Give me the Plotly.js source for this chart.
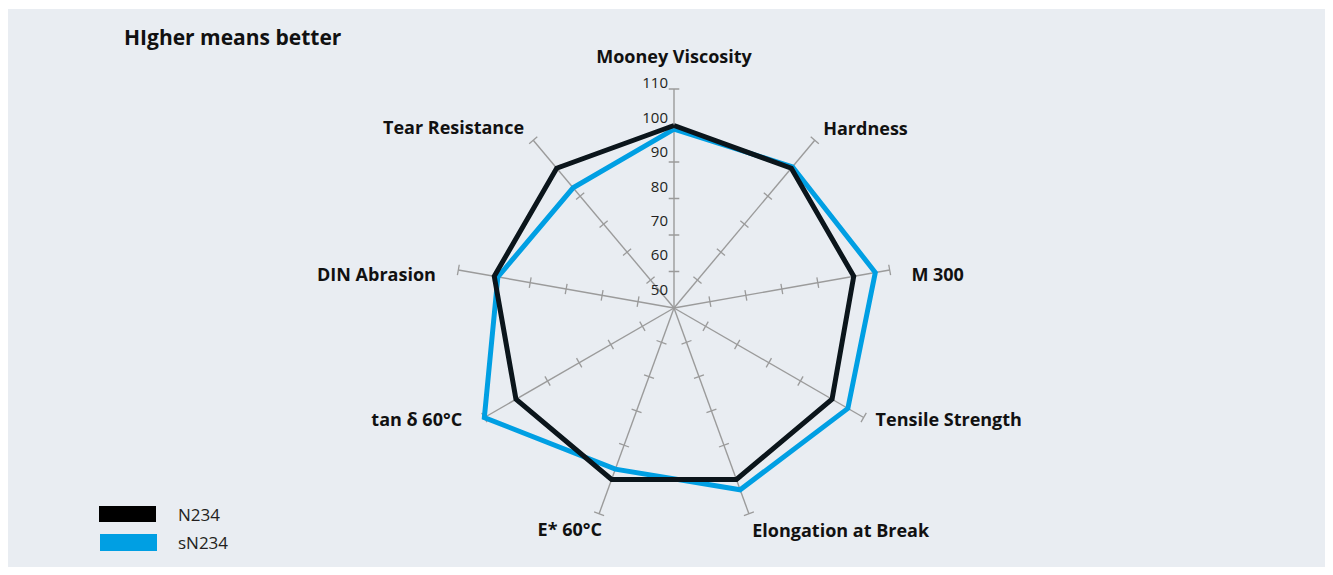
<!DOCTYPE html>
<html>
<head>
<meta charset="utf-8">
<script src="https://cdn.plot.ly/plotly-3.0.1.min.js"></script>
<style>
  html, body { margin: 0; padding: 0; background: #ffffff; }
  #chart { position: absolute; left: 8px; top: 9px; width: 1317px; height: 558px; }
</style>
</head>
<body>
<div id="chart"></div>
<script>
// ---- data ----
const categories = ["Mooney Viscosity", "Hardness", "M 300", "Tensile Strength",
  "Elongation at Break", "E* 60°C", "tan δ 60°C", "DIN Abrasion", "Tear Resistance"];
const seriesNames = ["N234", "sN234"];
const n234 = [100, 100, 100, 100, 100, 100, 100, 100, 100];
const sn234 = [99, 100.5, 106, 105, 103, 97, 110, 99, 93];
const radialTickVals = [50, 60, 70, 80, 90, 100, 110];
const radialTickText = ["50", "60", "70", "80", "90", "100", "110"];

// ---- layout config (label placement, not data) ----
const labelRadius = [116, 113.6, 115.6, 113.4, 112.7, 111.9, 115.8, 115.8, 113.9];
const labelAngleShift = [0, 0, 2.5, -0.6, 0, -1.4, 1.9, -2.5, 0];
const labelPosition = ["top center", "middle right", "middle right", "middle right",
  "bottom right", "bottom left", "middle left", "middle left", "middle left"];

// ---- helpers ----
const RMIN = 50, RMAX = 110, RVIEW = 120;
const N = categories.length;
const step = 360 / N;
const thetas = categories.map((c, i) => i * step);
const closed = arr => arr.concat([arr[0]]);

const colors = { N234: "#0b151b", sN234: "#009fe3" };
const spokeColor = "#9b9b9b";
const textColor = "#231f20";
const FONT = "'Open Sans', 'Noto Sans', sans-serif";
const PXU = 219 / (RMAX - RMIN); // pixels per radial unit

// spokes
const sr = [], st = [];
thetas.forEach(th => { sr.push(RMIN, RMAX, null); st.push(th, th, null); });

// tick marks across each spoke (short perpendicular segments)
const tickH = 1.45; // half-length in radial data units
const tr = [], tt = [];
thetas.forEach(th => {
  radialTickVals.filter(v => v > RMIN).forEach(v => {
    const d = v - RMIN;
    const rr = RMIN + Math.sqrt(d * d + tickH * tickH);
    const da = Math.atan(tickH / d) * 180 / Math.PI;
    tr.push(rr, rr, null);
    tt.push(th - da, th + da, null);
  });
});

// radial tick label placement: a little above each tick, a few px left of the spoke
const LEFT_PX = 6;
const tickLabelR = [], tickLabelT = [];
radialTickVals.forEach(v => {
  const up = (20 - (v - RMIN) * 0.21) - 3;          // px above the tick
  const dy = (v - RMIN) * PXU + up;                  // px above center
  const dist = Math.sqrt(dy * dy + LEFT_PX * LEFT_PX);
  tickLabelR.push(RMIN + dist / PXU);
  tickLabelT.push(-Math.atan2(LEFT_PX, dy) * 180 / Math.PI);
});

const traces = [
  { type: "scatterpolar", mode: "lines", r: sr, theta: st,
    line: { color: spokeColor, width: 1.4 }, hoverinfo: "skip", showlegend: false },
  { type: "scatterpolar", mode: "lines", r: tr, theta: tt,
    line: { color: spokeColor, width: 1.3 }, hoverinfo: "skip", showlegend: false },
  { type: "scatterpolar", mode: "lines", name: seriesNames[1],
    r: closed(sn234), theta: closed(thetas),
    line: { color: colors.sN234, width: 5 }, showlegend: false },
  { type: "scatterpolar", mode: "lines", name: seriesNames[0],
    r: closed(n234), theta: closed(thetas),
    line: { color: colors.N234, width: 5 }, showlegend: false },
  { type: "scatterpolar", mode: "text", r: labelRadius,
    theta: thetas.map((t, i) => t + labelAngleShift[i]),
    text: categories, textposition: labelPosition,
    textfont: { family: FONT, size: 18, weight: "bold", color: "#111111" },
    hoverinfo: "skip", showlegend: false },
  { type: "scatterpolar", mode: "text",
    r: tickLabelR, theta: tickLabelT,
    text: radialTickText, textposition: "middle left",
    textfont: { family: FONT, size: 15, color: textColor },
    hoverinfo: "skip", showlegend: false }
];

const W = 1317, H = 558;
const cx = 666, cy = 299, R110 = 219;
const RV = R110 * (RVIEW - RMIN) / (RMAX - RMIN);
const px = x => x / W, py = y => 1 - y / H;

const layout = {
  width: W, height: H,
  margin: { l: 0, r: 0, t: 0, b: 0 },
  paper_bgcolor: "#e9edf2",
  showlegend: false,
  title: { text: "HIgher means better", x: px(116), xanchor: "left", xref: "paper",
           y: py(29), yanchor: "middle", yref: "container",
           font: { family: FONT, size: 21, weight: "bold", color: "#111111" } },
  polar: {
    domain: { x: [px(cx - RV), px(cx + RV)], y: [py(cy + RV), py(cy - RV)] },
    bgcolor: "rgba(0,0,0,0)",
    radialaxis: { range: [RMIN, RVIEW], showgrid: false, showline: false, ticks: "",
                  showticklabels: false },
    angularaxis: { type: "linear", rotation: 90, direction: "clockwise",
                   showgrid: false, showline: false, ticks: "", showticklabels: false }
  },
  shapes: [
    { type: "rect", xref: "paper", yref: "paper", x0: px(91), x1: px(148), y0: py(513), y1: py(497),
      fillcolor: "#000000", line: { width: 0 } },
    { type: "rect", xref: "paper", yref: "paper", x0: px(92), x1: px(149), y0: py(542), y1: py(525),
      fillcolor: colors.sN234, line: { width: 0 } }
  ],
  annotations: [
    { xref: "paper", yref: "paper", x: px(168), y: py(505), xanchor: "left", yanchor: "middle",
      text: seriesNames[0], showarrow: false,
      font: { family: FONT, size: 17, color: textColor } },
    { xref: "paper", yref: "paper", x: px(168), y: py(533), xanchor: "left", yanchor: "middle",
      text: seriesNames[1], showarrow: false,
      font: { family: FONT, size: 17, color: textColor } }
  ]
};

Plotly.newPlot("chart", traces, layout, { staticPlot: true, displayModeBar: false });
</script>
</body>
</html>
